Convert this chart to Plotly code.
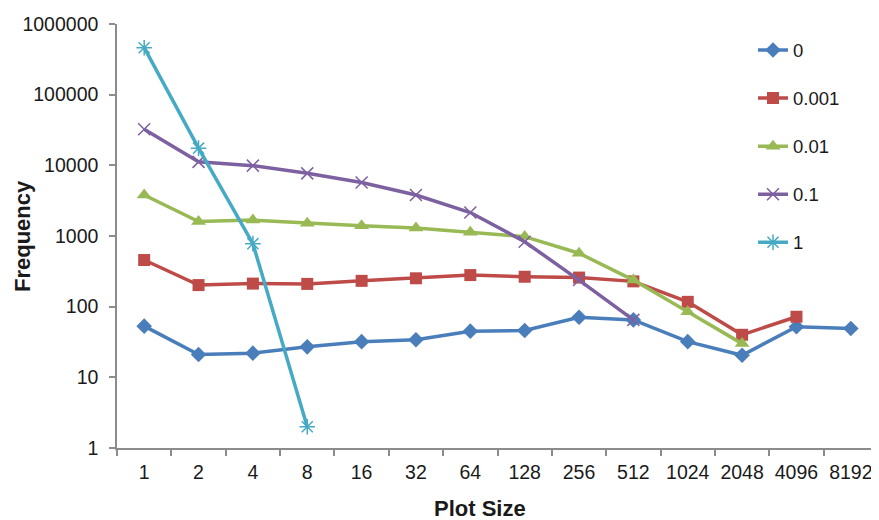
import plotly.graph_objects as go

plot_sizes = ["1", "2", "4", "8", "16", "32", "64", "128", "256", "512", "1024", "2048", "4096", "8192"]
series_names = ["0", "0.001", "0.01", "0.1", "1"]

freq_0 = [53, 21, 22, 27, 32, 34, 45, 46, 71, 65, 32, 20.5, 52, 49]
freq_0001 = [457, 202, 212, 210, 232, 252, 280, 265, 258, 228, 117, 40, 72, None]
freq_001 = [3800, 1600, 1680, 1520, 1400, 1300, 1130, 980, 570, 238, 85, 30, None, None]
freq_01 = [32400, 11200, 9900, 7700, 5700, 3800, 2150, 830, 238, 65, None, None, None, None]
freq_1 = [462000, 17500, 780, 2, None, None, None, None, None, None, None, None, None, None]

colors = ["#4A7EBB", "#BE4B48", "#98B954", "#7D60A0", "#46AAC5"]
symbols = ["diamond", "square", "triangle-up", "x-thin-open", "asterisk-open"]
sizes = [12, 12, 13, 12, 13]
all_vals = [freq_0, freq_0001, freq_001, freq_01, freq_1]

fig = go.Figure()
for name, vals, c, s, sz in zip(series_names, all_vals, colors, symbols, sizes):
    open_sym = s.endswith("open")
    fig.add_trace(go.Scatter(
        x=plot_sizes, y=vals, name=name, mode="lines+markers",
        legendgroup=name,
        line=dict(color=c, width=3.5),
        marker=dict(symbol=s, size=sz, color=c,
                    line=dict(color=c, width=1.5 if open_sym else 0)),
        connectgaps=False,
    ))

# page body has an 8px margin: figure is 871x512 placed at (8, 8)
PW = 761.0  # plot width in px
PH = 424.0  # plot height in px
axis_color = "#8C8C8C"
fig.update_layout(
    width=871, height=512,
    margin=dict(l=109, r=1, t=16, b=72),
    paper_bgcolor="white", plot_bgcolor="white",
    font=dict(family="Liberation Sans, Arial, sans-serif", size=19.5, color="#1a1a1a"),
    showlegend=True,
    legend=dict(x=(753 - 117) / PW, y=(448 - 31.5) / PH, xanchor="left", yanchor="top",
                bgcolor="rgba(0,0,0,0)", font=dict(size=18.5),
                tracegroupgap=21, traceorder="grouped"),
    xaxis=dict(type="category", range=[-0.5, 13.5], showgrid=False,
               showline=True, linecolor=axis_color, linewidth=1.5,
               ticks="outside", tickson="boundaries", ticklen=6,
               tickcolor=axis_color, tickwidth=1.5, zeroline=False,
               ticklabelstandoff=6),
    yaxis=dict(type="log", range=[0, 6], showgrid=False,
               showline=True, linecolor=axis_color, linewidth=1.5,
               ticks="outside", ticklen=6, tickcolor=axis_color, tickwidth=1.5,
               tickvals=[1, 10, 100, 1000, 10000, 100000, 1000000],
               ticktext=["1", "10", "100", "1000", "10000", "100000", "1000000"],
               zeroline=False, ticklabelstandoff=7),
    annotations=[
        dict(text="<b>Frequency</b>", xref="paper", yref="paper",
             x=(22 - 117) / PW, y=0.5, xanchor="center", yanchor="middle",
             textangle=-90, showarrow=False, font=dict(size=22)),
        dict(text="<b>Plot Size</b>", xref="paper", yref="paper",
             x=(480 - 117) / PW, y=(448 - 508) / PH, xanchor="center",
             yanchor="middle", showarrow=False, font=dict(size=22)),
    ],
)

fig.write_html("out.html")
